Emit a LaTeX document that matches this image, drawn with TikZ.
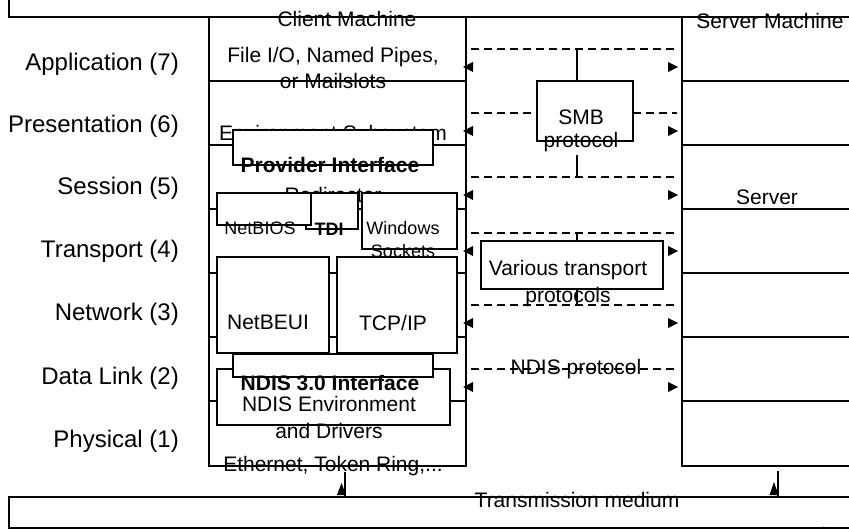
\documentclass[tikz,border=0pt]{standalone}
\usepackage{fontspec}
\setmainfont{Liberation Sans}
\usepackage{tikz}

\begin{document}
\begin{tikzpicture}[x=1pt, y=-1pt,
    rule/.style={line width=1.6pt},
    frame/.style={draw, line width=1.6pt, inner sep=0pt, outer sep=0pt, anchor=north west},
    box/.style={frame, fill=white},
    proto/.style={line width=1.6pt, dash pattern=on 8pt off 5pt},
    txt/.style={font=\fontsize{21}{26}\selectfont, align=center, inner sep=0pt},
    boldtxt/.style={font=\fontsize{21}{26}\selectfont\bfseries, align=center, inner sep=0pt},
    smalltxt/.style={font=\fontsize{18}{23}\selectfont, align=center, inner sep=0pt},
    layer/.style={font=\fontsize{24}{28}\selectfont, anchor=east, inner sep=0pt}]

    \useasboundingbox (0,0) rectangle (849,529);

    \draw[rule] (9,-10) rectangle (870,17);
    \node[frame, minimum width=870pt, minimum height=31pt] (wire) at (9,497) {};
    \node[frame, minimum width=257pt, minimum height=449pt] (client) at (209,17) {};
    \node[frame, minimum width=200pt, minimum height=449pt] (server) at (682,17) {};

    \foreach \y in {81,145,209,273,337,401} {
        \draw[rule] (client.west |- 0,\y) -- (client.east |- 0,\y);
        \draw[rule] (server.west |- 0,\y) -- (server.east |- 0,\y);
    }

    \node[layer] (osi7) at (179,64) {Application (7)};
    \node[layer] (osi6) at (179,126) {Presentation (6)};
    \node[layer] (osi5) at (179,188) {Session (5)};
    \node[layer] (osi4) at (179,251) {Transport (4)};
    \node[layer] (osi3) at (179,314) {Network (3)};
    \node[layer] (osi2) at (179,378) {Data Link (2)};
    \node[layer] (osi1) at (179,441) {Physical (1)};

    \coordinate (pl) at (471,0);
    \coordinate (pr) at (677,0);
    \coordinate (stem) at (577,0);
    \node[box, minimum width=96pt, minimum height=60pt] (smb) at (537,81) {};
    \node[box, minimum width=182pt, minimum height=48pt] (various) at (481,241) {};
    \foreach \y in {49,177,233,305,369}
        \draw[proto] (pl |- 0,\y) -- (pr |- 0,\y);
    \draw[proto] (pl |- 0,113) -- (smb.west |- 0,113);
    \draw[proto] (smb.east |- 0,113) -- (pr |- 0,113);
    \draw[rule] (stem |- smb.north) -- (stem |- 0,49);
    \draw[rule] (stem |- 0,155) -- (stem |- 0,177);
    \draw[rule] (stem |- various.north) -- (stem |- 0,233);
    \draw[rule] (stem |- various.south) -- (stem |- 0,305);
    \foreach \y in {67,131,195,251,323,387} {
        \fill (client.east |- 0,\y) ++(-3,0) -- ++(10,-5) -- ++(0,10) -- cycle;
        \fill (server.west |- 0,\y) ++(-4,0) -- ++(-10,-5) -- ++(0,10) -- cycle;
    }

    \coordinate (ethtap) at (345,472);
    \coordinate (srvtap) at (778,471);
    \draw[rule] (ethtap) -- (ethtap |- wire.north);
    \draw[rule] (srvtap) -- (srvtap |- wire.north);
    \fill (ethtap |- 0,483) ++(-3.5,0) -- ++(-4.5,12) -- ++(9,0) -- cycle;
    \fill (srvtap |- 0,482) ++(-4,0) -- ++(-4.5,13) -- ++(9,0) -- cycle;

    \node[txt] (clientname) at (347,18.5) {Client Machine};
    \node[txt] (fileio) at (333,67.5) {File I/O, Named Pipes,\\or Mailslots};
    \node[txt] (envsub) at (333,135) {Environment Subsystem};
    \node[txt] (redir) at (333,194.5) {Redirector};

    \node[box, minimum width=200pt, minimum height=35pt] (provider) at (233,130) {};
    \node[box, minimum width=52pt, minimum height=36pt] (tdi) at (306,193) {};
    \node[box, minimum width=94pt, minimum height=32pt] (netbios) at (217,193) {};
    \node[box, minimum width=95pt, minimum height=56pt] (winsock) at (362,193) {};
    \node[box, minimum width=112pt, minimum height=96pt] (netbeui) at (217,257) {};
    \node[box, minimum width=120pt, minimum height=96pt] (tcpip) at (337,257) {};
    \node[box, minimum width=233pt, minimum height=56pt] (ndisenv) at (217,369) {};
    \node[box, minimum width=200pt, minimum height=23pt] (ndisif) at (233,354) {};

    \node[boldtxt] (providertext) at (330,164.5) {Provider Interface};
    \node[smalltxt] (netbiostext) at (260,228.5) {NetBIOS};
    \node[smalltxt, font=\fontsize{18}{23}\selectfont\bfseries] (tditext) at (329,229.5) {TDI};
    \node[smalltxt] (winsocktext) at (403,239.5) {Windows\\Sockets};
    \node[txt] (netbeuitext) at (268,322) {NetBEUI};
    \node[txt] (tcpiptext) at (393,322.5) {TCP/IP};
    \node[boldtxt] (ndisiftext) at (330,383) {NDIS 3.0 Interface};
    \node[txt, font=\fontsize{21}{27}\selectfont] (ndisenvtext) at (329,417) {NDIS Environment\\and Drivers};
    \node[txt] (ethtext) at (333,466.5) {Ethernet, Token Ring,...};

    \node[txt, font=\fontsize{21}{23}\selectfont] (smbtext) at (581,131) {SMB\\protocol};
    \node[txt, font=\fontsize{21}{27}\selectfont] (varioustext) at (568,283.5) {Various transport\\protocols};
    \node[txt] (ndisproto) at (576,369.5) {NDIS protocol};

    \node[txt] (servername) at (770,20.5) {Server Machine};
    \node[txt] (servertext) at (767,197.5) {Server};
    \node[txt] (mediumtext) at (577,500) {Transmission medium};
    \node[font=\fontsize{17}{20}\selectfont, anchor=north, inner sep=0pt] (slideno) at (813,526.5) {AP 0/01};
  \end{tikzpicture}
\end{document}
